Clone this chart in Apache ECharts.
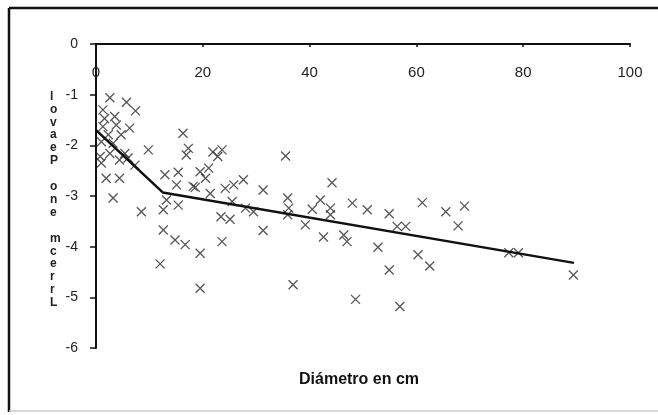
<!DOCTYPE html>
<html>
<head>
<meta charset="utf-8">
<script src="https://cdn.jsdelivr.net/npm/echarts@6/dist/echarts.min.js"></script>
<style>
html,body{margin:0;padding:0;background:#fff;}
#main{width:658px;height:415px;}
</style>
</head>
<body>
<div id="main"></div>
<script>
// Scatter observations: [diameter (cm), log value]
const scatterPoints = [
  [2.6,-1.06],[5.7,-1.15],[7.4,-1.32],[1.3,-1.30],[1.6,-1.47],[3.5,-1.43],[1.3,-1.63],[3.8,-1.60],
  [6.3,-1.66],[2.3,-1.79],[4.7,-1.79],[1.0,-1.93],[3.2,-1.96],[9.8,-2.09],[2.6,-2.16],[5.4,-2.16],
  [4.4,-2.29],[6.0,-2.25],[1.0,-2.35],[7.3,-2.39],[0.8,-2.22],[1.9,-2.65],[4.4,-2.65],[3.2,-3.04],
  [16.3,-1.76],[17.3,-2.06],[16.9,-2.19],[12.9,-2.58],[15.4,-2.53],[15.1,-2.78],[18.2,-2.81],
  [13.2,-3.08],[15.4,-3.18],[12.6,-3.27],[8.5,-3.31],[12.6,-3.67],[14.8,-3.87],[16.7,-3.96],
  [19.5,-4.13],[12.0,-4.34],[19.5,-4.82],
  [21.9,-2.13],[23.6,-2.09],[22.8,-2.22],[35.5,-2.21],[19.5,-2.52],[21.1,-2.45],[20.5,-2.65],
  [18.6,-2.83],[21.4,-2.95],[24.2,-2.85],[25.8,-2.78],[27.6,-2.68],[31.3,-2.88],[25.5,-3.11],
  [28.0,-3.24],[29.5,-3.31],[23.4,-3.41],[25.1,-3.46],[23.6,-3.90],[31.3,-3.68],[36.9,-4.75],
  [35.9,-3.04],[36.1,-3.24],[35.9,-3.37],[39.2,-3.57],[40.5,-3.26],[42.0,-3.08],[43.9,-3.24],
  [43.9,-3.37],[44.2,-2.74],[42.6,-3.81],[46.4,-3.77],[47.0,-3.90],[48.0,-3.14],[50.8,-3.27],
  [54.9,-3.35],[52.8,-4.01],[54.9,-4.46],[48.6,-5.04],[56.9,-5.18],[56.4,-3.60],[58.0,-3.60],
  [61.1,-3.13],[65.5,-3.31],[69.0,-3.20],[67.8,-3.59],[60.3,-4.16],[62.5,-4.38],
  [77.3,-4.12],[79.1,-4.12],[89.4,-4.56]
];
// Segmented regression line vertices
const regressionLine = [[0,-1.70],[12.5,-2.93],[89.5,-4.32]];
const xTicks = [0,20,40,60,80,100];
const yTicks = [0,-1,-2,-3,-4,-5,-6];
const xTitle = 'Diámetro en cm';
const yTitleChars = ['l','o','v','a','e','P','','o','n','e','','m','c','e','r','r','L'];

const chart = echarts.init(document.getElementById('main'), null, {renderer:'canvas'});
const font = 'Liberation Sans, Arial, sans-serif';
chart.setOption({
  backgroundColor:'#fff',
  animation:false,
  grid:{left:96,right:28,top:44,bottom:67},
  xAxis:{
    type:'value', position:'top', min:xTicks[0], max:xTicks[xTicks.length-1], interval:20,
    axisLine:{onZero:false, lineStyle:{color:'#111', width:2}},
    axisTick:{show:true, inside:true, length:3, lineStyle:{color:'#111', width:1.5}},
    axisLabel:{inside:true, margin:21, fontSize:15, color:'#222', fontFamily:font, verticalAlign:'top'},
    splitLine:{show:false}
  },
  yAxis:{
    type:'value', min:yTicks[yTicks.length-1], max:yTicks[0], interval:1,
    axisLine:{onZero:false, lineStyle:{color:'#111', width:2}},
    axisTick:{show:true, length:6, lineStyle:{color:'#111', width:1.5}},
    axisLabel:{margin:18, fontSize:14, color:'#222', fontFamily:font},
    splitLine:{show:false}
  },
  series:[
    {
      type:'scatter', data:scatterPoints, z:2,
      symbol:'path://M0 0L10 10M10 0L0 10', symbolSize:9,
      itemStyle:{color:'rgba(0,0,0,0)', borderColor:'#2a2a2a', borderWidth:1.3}
    },
    {
      type:'line', data:regressionLine, z:3, symbol:'none',
      lineStyle:{color:'#111', width:2.5}
    }
  ],
  graphic:[
    {type:'line', shape:{x1:9,y1:8,x2:658,y2:8}, style:{stroke:'#111', lineWidth:2.5}},
    {type:'line', shape:{x1:9,y1:8,x2:9,y2:412}, style:{stroke:'#111', lineWidth:2.5}},
    {type:'line', shape:{x1:9,y1:411,x2:658,y2:411}, style:{stroke:'#ccc', lineWidth:1.5}},
    {type:'text', left:299, top:372, style:{text:xTitle, font:'bold 16px '+font, fill:'#111'}},
    {type:'text', left:50, top:90, style:{text:yTitleChars.join('\n'), font:'bold 12px '+font, fill:'#222', lineHeight:12.9, align:'center'}}
  ]
});
</script>
</body>
</html>
